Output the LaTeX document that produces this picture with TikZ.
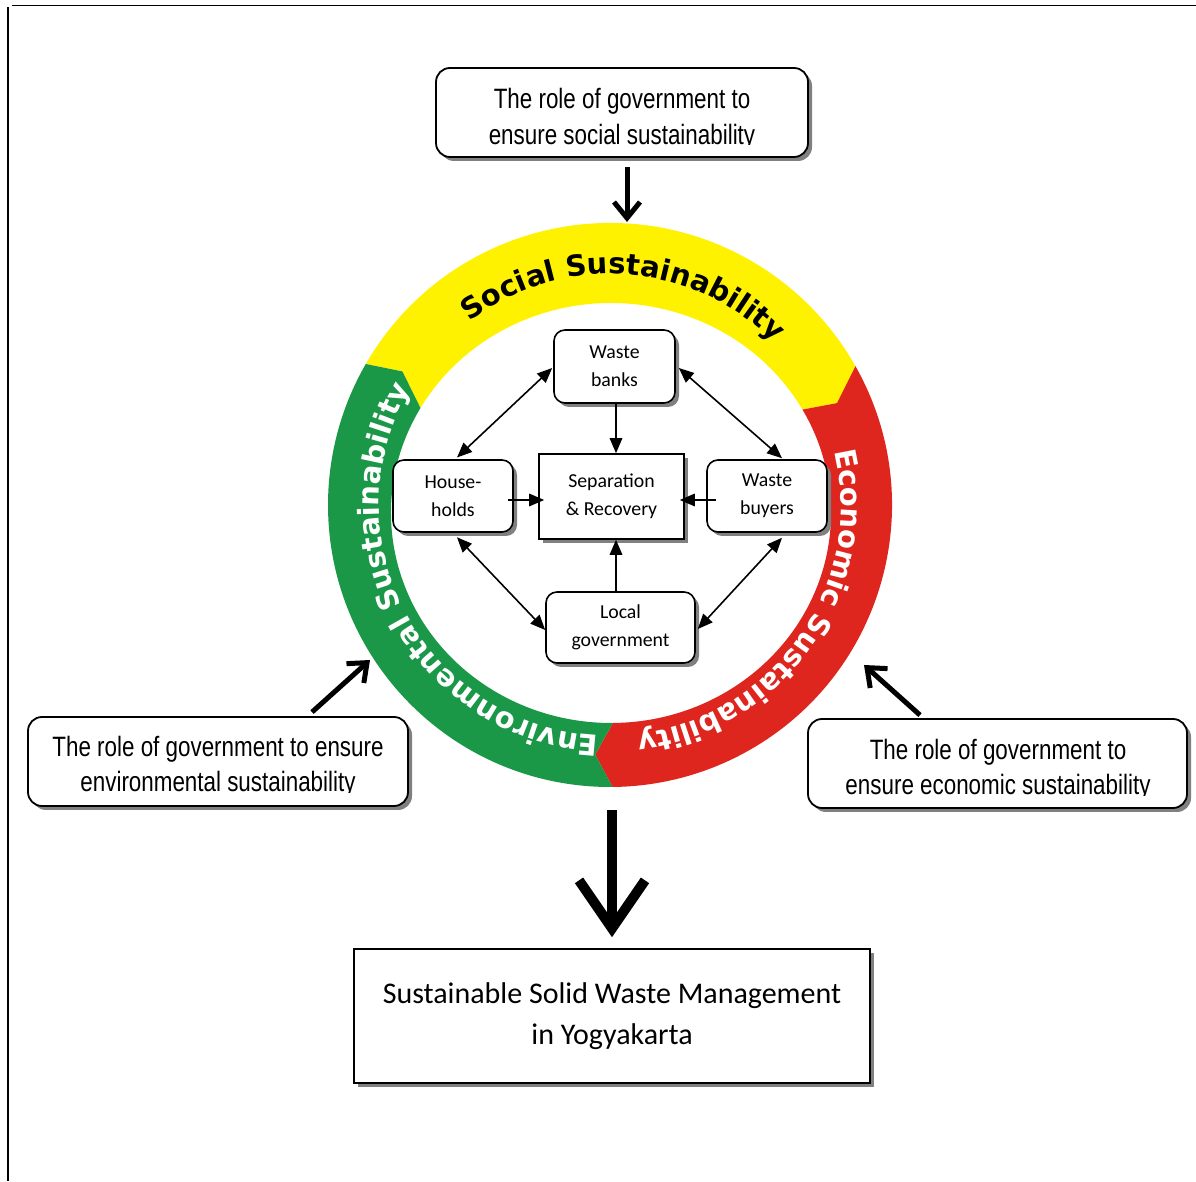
\documentclass[tikz,border=0pt]{standalone}
\usepackage{fontspec}
\usetikzlibrary{arrows.meta,shadows,decorations.text,calc}
\newfontfamily\narrowf[FakeStretch=0.80]{Liberation Sans}
\newfontfamily\calf{Carlito}
\newfontfamily\ringf{DejaVu Sans}
\definecolor{ringyellow}{RGB}{255,242,0}
\definecolor{ringred}{RGB}{222,38,30}
\definecolor{ringgreen}{RGB}{26,152,72}
\newcommand\ringtxt{\ringf\bfseries\fontsize{29pt}{30pt}\selectfont}
\newcommand\ringtxtw{\color{white}\ringf\bfseries\fontsize{29pt}{30pt}\selectfont}
\newcommand\ringseg[3]{%
  \fill[#1] ($(O)+(#2:282)$) arc[start angle=#2, end angle=#3, radius=282]
   -- ($.5*(O)+.5*(I)+.5*({#3-4}:282)+.5*({#3-4}:220 and 210)$)
   -- ($(I)+(#3:220 and 210)$) arc[start angle=#3, end angle=#2, x radius=220, y radius=210]
   -- ($.5*(O)+.5*(I)+.5*({#2-4}:282)+.5*({#2-4}:220 and 210)$) -- cycle;}
\tikzset{
 shad/.style={drop shadow={shadow xshift=4pt, shadow yshift=-4pt, fill=black!50, opacity=1}},
 obox/.style={draw, line width=1.8pt, rounded corners=14pt, fill=white, shad, inner sep=0pt},
 otext/.style={font=\narrowf\fontsize{28pt}{34pt}\selectfont, inner sep=0pt, anchor=base},
 ibox/.style={draw, line width=1.6pt, rounded corners=11pt, fill=white, shad, align=center, inner sep=0pt, font=\calf\fontsize{19.8pt}{28pt}\selectfont},
 sqbox/.style={ibox, sharp corners},
 arr/.style={line width=1.6pt, -{Triangle[length=15pt,width=12.5pt]}},
 darr/.style={line width=1.6pt, {Triangle[length=15pt,width=12.5pt]}-{Triangle[length=15pt,width=12.5pt]}},
 bigarr/.style={line width=5pt, -{Straight Barb[length=16pt,width=26pt,sharp]}},
 hugearr/.style={line width=10pt, -{Straight Barb[length=48pt,width=66pt,sharp]}},
}
\begin{document}
\begin{tikzpicture}[x=1pt,y=1pt]
\useasboundingbox (0,0) rectangle (1196,1181);
% frame
\draw[line width=1.6pt] (12,1175.5) -- (1196,1175.5);
\draw[line width=1.4pt] (8,1174) -- (8,0);
% ring
\coordinate (O) at (610,676);
\coordinate (I) at (611,668);
\ringseg{ringyellow}{150}{29.5}
\ringseg{ringred}{29.5}{-89.5}
\ringseg{ringgreen}{270.5}{150}
\path[decorate, decoration={text along path, text align=center, text={|\ringtxt|Social Sustainability}}]
  ($(O)+(151:231)$) arc[start angle=151, end angle=21, radius=231];
\path[decorate, decoration={text along path, text align=center, text={|\ringtxtw|Economic Sustainability}}]
  ($(O)+(30:231)$) arc[start angle=30, end angle=-100, radius=231];
\path[decorate, decoration={text along path, text align=center, text={|\ringtxtw|Environmental Sustainability}}]
  ($(O)+(273.5:231)$) arc[start angle=273.5, end angle=143.5, radius=231];
% outer boxes
\node[obox, minimum width=372pt, minimum height=89pt] (gsoc) at (622,1068.5) {};
\node[otext] (gsoc1) at (622,1072) {The role of government to};
\begin{scope}
\clip (440,1036) rectangle (804,1062);
\node[otext] (gsoc2) at (622,1036.5) {ensure social sustainability};
\end{scope}
\node[obox, minimum width=380pt, minimum height=89pt] (genv) at (218,419.5) {};
\node[otext] (genv1) at (218,424) {The role of government to ensure};
\begin{scope}
\clip (32,388.5) rectangle (404,414);
\node[otext] (genv2) at (218,389) {environmental sustainability};
\end{scope}
\node[obox, minimum width=379pt, minimum height=89pt] (gecon) at (997.5,417.5) {};
\node[otext] (gecon1) at (998,421) {The role of government to};
\begin{scope}
\clip (812,385.5) rectangle (1183,411);
\node[otext] (gecon2) at (998,386) {ensure economic sustainability};
\end{scope}
\node[draw, line width=1.6pt, fill=white, shad, minimum width=516pt, minimum height=134pt, align=center, inner sep=0pt, font=\calf\fontsize{30pt}{41pt}\selectfont] (ssw) at (612,165) {Sustainable Solid Waste Management\\in Yogyakarta};
% inner boxes
\node[ibox, minimum width=121pt, minimum height=73pt] (wb) at (614.5,814.5) {Waste\\banks};
\node[ibox, minimum width=120pt, minimum height=72pt] (hh) at (453,685) {House-\\holds};
\node[sqbox, minimum width=145pt, minimum height=85pt] (sr) at (611.5,684.5) {Separation\\\& Recovery};
\node[ibox, minimum width=120pt, minimum height=72pt] (wby) at (767,685) {Waste\\buyers};
\node[ibox, minimum width=149pt, minimum height=71pt] (lg) at (620.5,553.5) {Local\\government};
% inner connectors
\draw[darr] ([xshift=4pt,yshift=1.7pt]hh.north) -- ([xshift=-1pt,yshift=-1.5pt]wb.west);
\draw[darr] ([xshift=3pt,yshift=-1.5pt]wb.east) -- ([xshift=15pt,yshift=1pt]wby.north);
\draw[darr] ([xshift=4pt,yshift=-4.5pt]hh.south) -- ([yshift=-2.5pt]lg.west);
\draw[darr] ([xshift=15pt,yshift=-5pt]wby.south) -- ([xshift=2pt,yshift=-1.5pt]lg.east);
\draw[arr] ([xshift=1.5pt]wb.south) -- ([xshift=4.5pt]sr.north);
\draw[arr] ([xshift=-4.5pt]lg.north) -- ([xshift=4.5pt]sr.south);
\draw[arr] ([xshift=-6pt,yshift=-4pt]hh.east) -- ([xshift=6pt,yshift=-3.5pt]sr.west);
\draw[arr] ([xshift=10pt,yshift=-4pt]wby.west) -- ([xshift=-5pt,yshift=-3.5pt]sr.east);
% big arrows
\coordinate (socin) at (627,959);
\draw[bigarr] ([xshift=5pt,yshift=-9pt]gsoc.south) -- (socin);
\coordinate (envin) at (370,521);
\draw[bigarr] ([xshift=94pt,yshift=4pt]genv.north) -- (envin);
\coordinate (ecoin) at (864,516);
\draw[bigarr] ([xshift=-77.5pt,yshift=3pt]gecon.north) -- (ecoin);
\coordinate (ringout) at (612,371);
\draw[hugearr] (ringout) -- ([yshift=11pt]ssw.north);
\end{tikzpicture}
\end{document}
